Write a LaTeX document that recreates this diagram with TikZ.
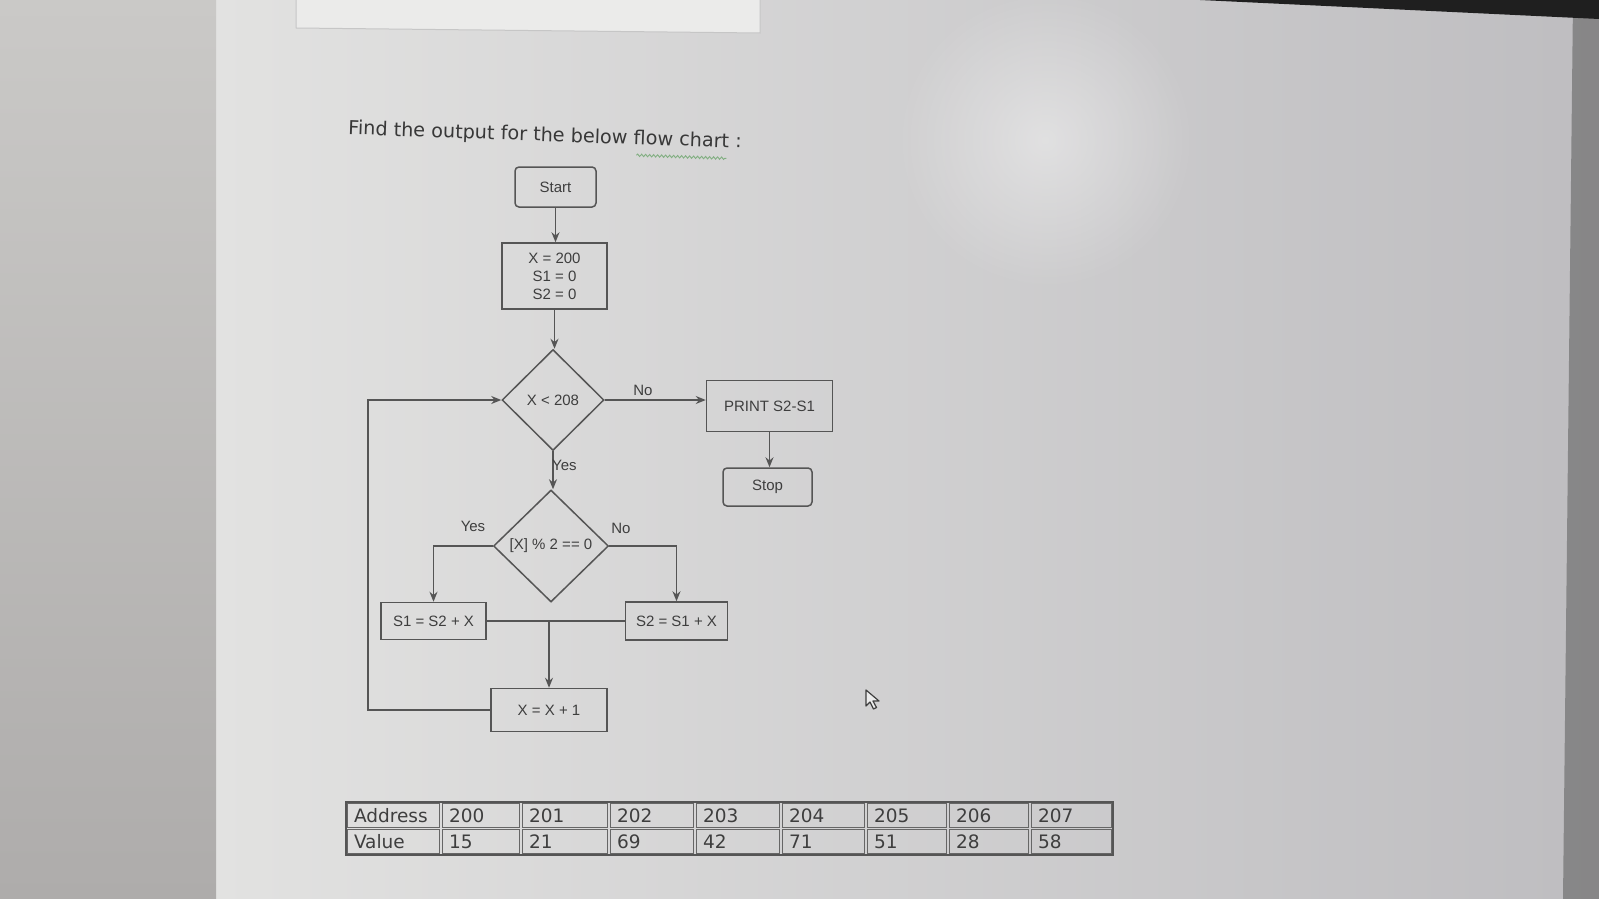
\documentclass[tikz,border=0pt]{standalone}
\usepackage{fontspec}
\setmainfont{Liberation Sans}
\newfontfamily\versans{DejaVu Sans}
\usetikzlibrary{shapes.geometric,arrows.meta,fadings,decorations.pathmorphing}

\definecolor{scrA}{RGB}{226,226,225}
\definecolor{scrB}{RGB}{236,236,236}
\definecolor{scrC}{RGB}{190,189,192}
\definecolor{bezelT}{RGB}{202,201,199}
\definecolor{bezelB}{RGB}{174,172,171}
\definecolor{inkline}{RGB}{85,85,85}
\definecolor{ink}{RGB}{62,62,62}
\definecolor{spell}{RGB}{130,175,130}

\tikzfading[name=glowfade, inner color=transparent!0, outer color=transparent!100]

\tikzset{
  flow/.style={font=\fontsize{15}{18}\selectfont, text=ink},
  procbox/.style={flow, draw=inkline, line width=1.5pt, inner sep=0pt, align=center},
  termbox/.style={procbox, rounded corners=4pt},
  decide/.style={flow, draw=inkline, line width=1.5pt, diamond, aspect=1, inner sep=0pt},
  conn/.style={draw=inkline, line width=1.5pt},
  arr/.style={conn, -{Stealth[length=10pt,width=8pt]}},
  tag/.style={flow, inner sep=0pt},
  cell/.style={draw=inkline!90, line width=0.9pt, inner sep=0pt, inner xsep=6.5pt,
    font=\fontsize{18.5}{22}\versans, text=ink, align=left}
}

\begin{document}
\begin{tikzpicture}[x=1pt, y=-1pt]
\useasboundingbox (0,0) rectangle (1599,899);

% monitor surface and bezel
\shade[left color=scrA, middle color=scrB, right color=scrC] (216,0) rectangle (1599,899);
\fill[white, path fading=glowfade, fill opacity=0.4] (1045,140) circle (150);
\shade[top color=bezelT, bottom color=bezelB] (0,0) rectangle (216,899);
\fill[gray!60!black!80, opacity=0.7] (1573,0) -- (1599,0) -- (1599,899) -- (1563,899) -- cycle;
\fill[black!88] (1200,0) -- (1599,0) -- (1599,19) -- cycle;

% faint panel at the top of the page
\draw[gray!45, line width=1pt, fill=scrA!70!white] (296,-2) -- (296,28) -- (760,33) -- (760,-2);

% heading
\node[font=\fontsize{19.2}{22}\versans, text=ink!90!black, rotate=-2] (title) at (545,136)
  {Find the output for the below flow chart :};
\begin{scope}[rotate around={-2:(545,136)}]
  \draw[spell, line width=0.9pt, decorate,
    decoration={snake, amplitude=1.2pt, segment length=4pt}]
    (637,152) -- (727,152);
\end{scope}

% flowchart nodes
\node[termbox, minimum width=81pt, minimum height=40pt] (start) at (555.5,187) {Start};
\node[procbox, minimum width=105pt, minimum height=66pt] (init) at (554.5,276)
  {X = 200\\S1 = 0\\S2 = 0};
\node[decide, minimum width=102pt, minimum height=101pt] (loopchk) at (553,400) {X {<} 208};
\node[procbox, minimum width=126pt, minimum height=51pt] (print) at (769.5,406) {PRINT S2-S1};
\node[termbox, minimum width=89pt, minimum height=38pt] (stop) at (767.5,487) {Stop};
\node[decide, minimum width=115pt, minimum height=112pt] (parity) at (551,546) {[X] \% 2 == 0};
\node[procbox, minimum width=105pt, minimum height=37pt] (even) at (433.5,621) {S1 = S2 + X};
\node[procbox, minimum width=102pt, minimum height=38pt] (odd) at (676.5,621) {S2 = S1 + X};
\node[procbox, minimum width=116pt, minimum height=43pt] (incr) at (549,710) {X = X + 1};

% connectors
\draw[arr] (start.south) -- (start.south |- init.north);
\draw[arr] (init.south) -- (init.south |- loopchk.north);
\draw[arr] (loopchk.east) -- (loopchk.east -| print.west);
\draw[arr] (print.south) -- (print.south |- stop.north);
\draw[arr] (loopchk.south) -- (loopchk.south |- parity.north);
\draw[arr] (parity.west) -| (even.north);
\draw[arr] (parity.east) -| (odd.north);
\draw[conn] (even.east) -- (odd.west);
\coordinate (merge) at (even.east -| incr.north);
\draw[arr] (merge) -- (incr.north);
\coordinate (back) at (368,709);
\draw[arr] (incr.west) -- (back |- incr.west) |- (loopchk.west);

% branch labels
\node[tag] (noA) at (643,390) {No};
\node[tag, anchor=west] (yesA) at (552,465) {Yes};
\node[tag] (yesB) at (473,526) {Yes};
\node[tag] (noB) at (621,528) {No};

% memory table
\draw[inkline, line width=1.2pt] (346,802) rectangle (1113,855);
\foreach \l/\r/\a/\v [count=\i] in {346/441/Address/Value, 441/521/200/15, 521/609/201/21,
    609/695/202/69, 695/781/203/42, 781/866/204/71, 866/948/205/51, 948/1030/206/28,
    1030/1113/207/58}{
  \pgfmathsetmacro{\w}{\r-\l-3}
  \pgfmathsetmacro{\tw}{\w-13}
  \node[cell, minimum width=\w pt, minimum height=24pt, text width=\tw pt]
    (a\i) at ({(\l+\r)/2},815.3) {\a};
  \node[cell, minimum width=\w pt, minimum height=24pt, text width=\tw pt]
    (v\i) at ({(\l+\r)/2},841.7) {\v};
}

% mouse pointer
\draw[ink, line width=1.2pt, fill=white!85!gray, line join=round]
  (866,690) -- (866,706) -- (870,702) -- (873.5,709) -- (876.5,707.5) -- (873,701) -- (879,701) -- cycle;
\end{tikzpicture}
\end{document}
